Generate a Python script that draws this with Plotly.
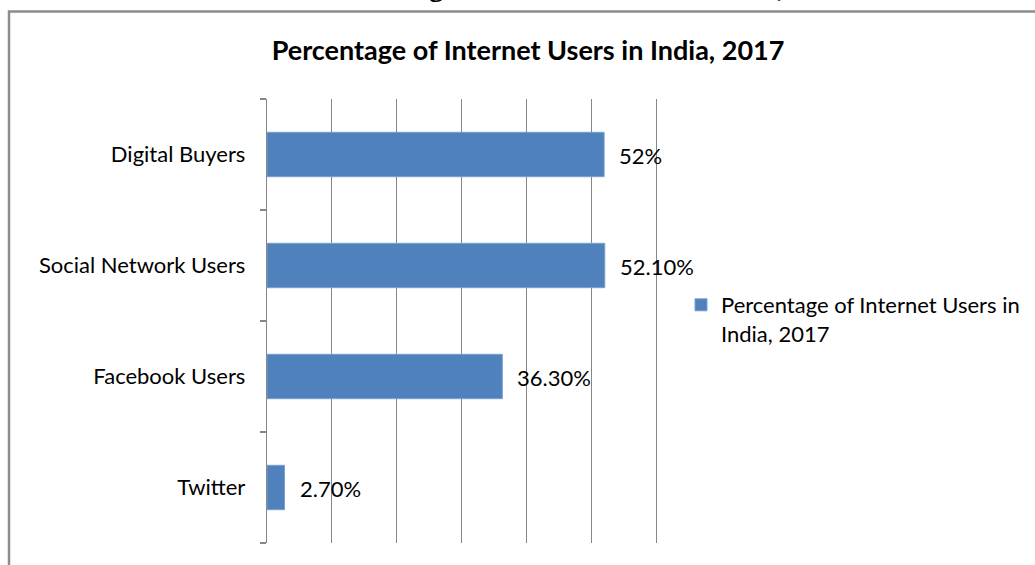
import plotly.graph_objects as go

categories = ["Twitter", "Facebook Users", "Social Network Users", "Digital Buyers"]
values = [2.7, 36.3, 52.1, 52.0]
value_labels = ["2.70%", "36.30%", "52.10%", "52%"]
series_name = "Percentage of Internet Users in<br>India, 2017"
chart_title = "Percentage of Internet Users in India, 2017"
x_ticks = [0, 10, 20, 30, 40, 50, 60]

FONT = "Lato"
BAR = "#4f81bd"
GRID = "#868686"

# plot area in pixels
L, R, T, B = 267, 656, 99, 543
W, H = 1035, 565
pw, ph = R - L, B - T


def px_x(p):
    return (p - L) / pw


def px_y(p):
    return (B - p) / ph


fig = go.Figure()
fig.add_trace(go.Bar(
    y=categories, x=values, orientation="h", name=series_name,
    marker=dict(color=BAR, line=dict(color="#7a9fd0", width=1)),
    width=0.4, showlegend=True,
))

for c, v, t in zip(categories, values, value_labels):
    fig.add_annotation(x=v, y=c, xref="x", yref="y", text=t, showarrow=False,
                       xanchor="left", yanchor="middle", xshift=13, yshift=-1,
                       font=dict(family=FONT, size=22, color="#000000"))

# clipped document heading above the chart frame
fig.add_annotation(x=px_x(318), y=px_y(4.5), xref="paper", yref="paper",
                   text="<b>" + chart_title + "</b>", showarrow=False,
                   xanchor="left", yanchor="bottom",
                   font=dict(family="Liberation Serif", size=29, color="#000000"))

# chart frame
fig.add_shape(type="rect", xref="paper", yref="paper",
              x0=px_x(9), x1=px_x(1100), y0=px_y(620), y1=px_y(11.5),
              line=dict(color="#8c8c8c", width=2.5), layer="below")

fig.update_layout(
    width=W, height=H,
    margin=dict(l=L, r=W - R, t=T, b=H - B, pad=0, autoexpand=False),
    paper_bgcolor="white", plot_bgcolor="white",
    title=dict(text="<b>" + chart_title + "</b>", x=528 / W, xanchor="center",
               xref="container", y=1 - 51 / H, yanchor="middle",
               font=dict(family=FONT, size=27, color="#000000")),
    font=dict(family=FONT, size=22, color="#000000"),
    bargap=0.6,
    showlegend=True,
    legend=dict(x=px_x(681), y=px_y(284), xanchor="left", yanchor="top",
                valign="top", font=dict(family=FONT, size=22, color="#000000"),
                bgcolor="rgba(0,0,0,0)", itemwidth=30),
    xaxis=dict(range=[0, 60], tickvals=x_ticks, showticklabels=False,
               showgrid=True, gridcolor=GRID, gridwidth=1.3, zeroline=False,
               showline=False, ticks="", fixedrange=True),
    yaxis=dict(categoryorder="array", categoryarray=categories,
               showline=True, linecolor=GRID, linewidth=1.4, mirror=True,
               ticks="outside", ticklen=6, tickcolor=GRID, tickwidth=1.5,
               tickson="boundaries", showgrid=False, zeroline=False,
               ticklabelstandoff=16,
               tickfont=dict(family=FONT, size=22, color="#000000")),
)

fig.write_html("out.html")
